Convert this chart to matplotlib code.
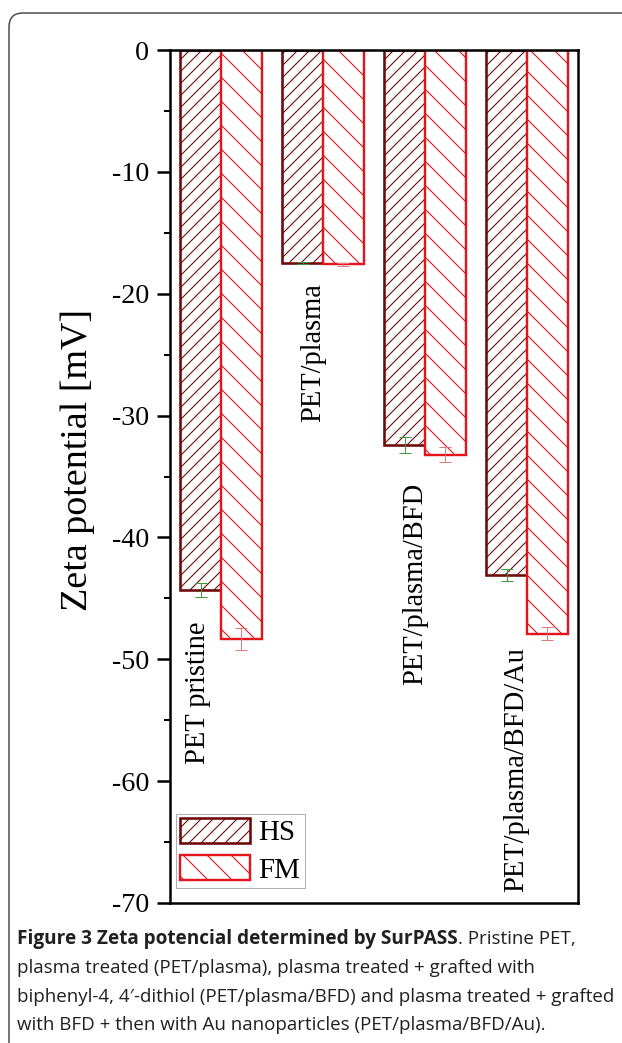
import numpy as np
import matplotlib
matplotlib.use("Agg")
import matplotlib.pyplot as plt
import matplotlib.ticker as ticker
from matplotlib.patches import FancyBboxPatch
from matplotlib.transforms import IdentityTransform

# ── Data ──────────────────────────────────────────────────────────────────────
groups   = ["PET pristine", "PET/plasma", "PET/plasma/BFD", "PET/plasma/BFD/Au"]
hs_vals  = [-44.3, -17.5, -32.4, -43.1]
hs_err   = [0.55, 0.1, 0.65, 0.5]
fm_vals  = [-48.3, -17.6, -33.2, -47.9]
fm_err   = [0.9, 0.1, 0.6, 0.55]
series   = ["HS", "FM"]
yticks   = [0, -10, -20, -30, -40, -50, -60, -70]

# group label placement (annotation positions, data units)
label_dx  = [-0.23, -0.10, -0.10, -0.11]
label_top = [-46.9, -19.1, -35.5, -49.0]

caption_bold = "Figure 3 Zeta potencial determined by SurPASS"
caption_rest = ". Pristine PET,"
caption_lines = [
    "plasma treated (PET/plasma), plasma treated + grafted with",
    "biphenyl-4, 4\u2032-dithiol (PET/plasma/BFD) and plasma treated + grafted",
    "with BFD + then with Au nanoparticles (PET/plasma/BFD/Au).",
]

# ── Style ─────────────────────────────────────────────────────────────────────
W, H, DPI = 622, 1043, 72
HS_EDGE = "#6e0a0a"
FM_EDGE = "#e3141c"
HS_ERR  = "#3f9a3f"
FM_ERR  = "#e07a7a"

plt.rcParams["font.family"] = ["Liberation Serif", "DejaVu Serif"]
plt.rcParams["axes.unicode_minus"] = False
plt.rcParams["hatch.linewidth"] = 1.1

fig = plt.figure(figsize=(W / DPI, H / DPI), dpi=DPI)
ax = fig.add_axes([170 / W, 1 - 903 / H, 408 / W, 853 / H])

x = np.arange(1, len(groups) + 1)
bw = 0.4
ax.bar(x - bw / 2, hs_vals, bw, facecolor="white", edgecolor=HS_EDGE,
       hatch="//", linewidth=2.6, label=series[0], zorder=2)
ax.bar(x + bw / 2, fm_vals, bw, facecolor="white", edgecolor=FM_EDGE,
       hatch="\\", linewidth=2.4, label=series[1], zorder=2)
ax.errorbar(x - bw / 2, hs_vals, yerr=hs_err, fmt="none", ecolor=HS_ERR,
            elinewidth=1, capsize=6, capthick=1, zorder=3)
ax.errorbar(x + bw / 2, fm_vals, yerr=fm_err, fmt="none", ecolor=FM_ERR,
            elinewidth=1, capsize=6, capthick=1, zorder=3)

for i, name in enumerate(groups):
    ax.text(x[i] + label_dx[i], label_top[i], name, rotation=90,
            ha="center", va="top", fontsize=28.5)

ax.set_xlim(0.5, 4.5)
ax.set_ylim(-70, 0)
ax.set_xticks([])
ax.set_yticks(yticks)
ax.yaxis.set_minor_locator(ticker.MultipleLocator(5))
ax.tick_params(axis="y", which="major", direction="out", length=13, width=2.5,
               pad=8, labelsize=28)
ax.tick_params(axis="y", which="minor", direction="out", length=6, width=2)
for sp in ax.spines.values():
    sp.set_linewidth(2.5)
ax.set_ylabel("Zeta potential [mV]", fontsize=38, labelpad=12)
ax.yaxis.set_label_coords(-0.185, 0.52)

leg = ax.legend(loc="lower left", bbox_to_anchor=(6 / 408, 15 / 853),
                borderaxespad=0, fontsize=29, fancybox=False, edgecolor="#9a9a9a",
                handlelength=2.4, handleheight=0.95, handletextpad=0.3,
                labelspacing=0.3, borderpad=0.15)
leg.get_frame().set_linewidth(1.0)

# ── Caption and frame ─────────────────────────────────────────────────────────
frame = FancyBboxPatch((9, -40), 660, H - 13 + 40, transform=IdentityTransform(),
                       boxstyle="round,pad=0,rounding_size=14", facecolor="none",
                       edgecolor="#4a4a4a", linewidth=1.5)
fig.add_artist(frame)

cap_kw = dict(color="#231f20", va="center")
reg_font = ["Open Sans", "DejaVu Sans"]
line_y = [939, 968, 997, 1025]
t = fig.text(17 / W, 1 - line_y[0] / H, caption_bold, fontweight="bold",
             fontsize=19, family=reg_font, **cap_kw)
bb = t.get_window_extent(renderer=fig.canvas.get_renderer())
fig.text(bb.x1 / W, 1 - line_y[0] / H, caption_rest, fontsize=18.7,
         family=reg_font, **cap_kw)
for yy, line in zip(line_y[1:], caption_lines):
    fig.text(17 / W, 1 - yy / H, line, fontsize=18.7, family=reg_font, **cap_kw)

fig.savefig("out.png", dpi=DPI)
